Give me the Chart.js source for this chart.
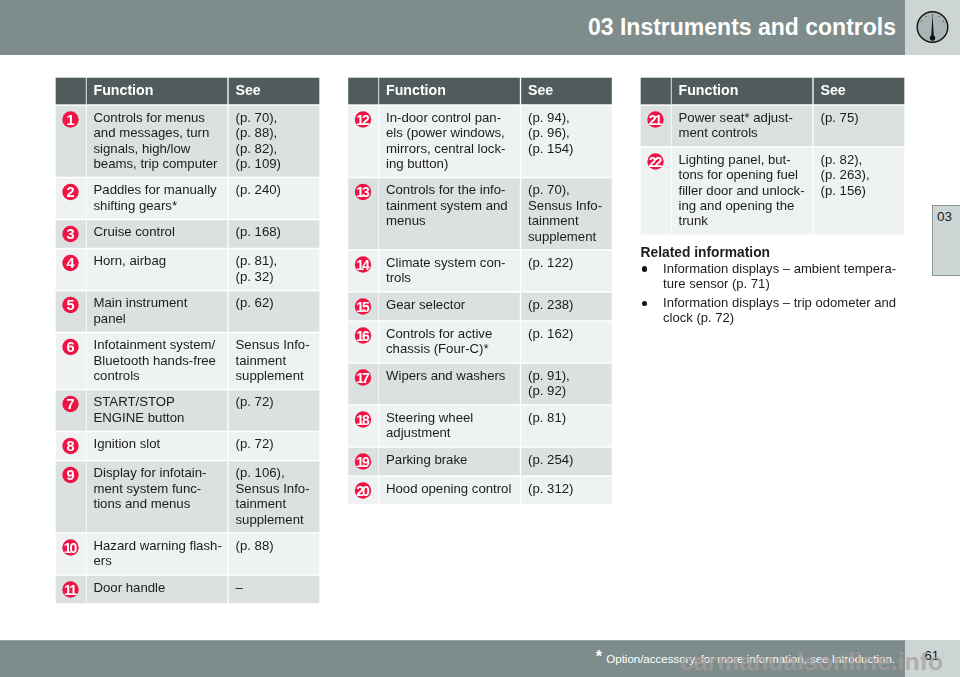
<!DOCTYPE html>
<html>
<head>
<meta charset="utf-8">
<title>03 Instruments and controls</title>
<script src="https://cdn.jsdelivr.net/npm/chart.js@4/dist/chart.umd.min.js"></script>
<style>
  html, body { margin: 0; padding: 0; background: #fff; overflow: hidden; }
  body { width: 960px; height: 677px; position: relative; font-family: 'Liberation Sans', sans-serif; color: #1c1c1c; }
  #page { position: absolute; left: 0; top: 0; }
  .band { position: absolute; left: 0; width: 905px; background: #7e8c8b; }
  .box { position: absolute; left: 905px; width: 55px; background: #cdd5d4; }
  .abs { position: absolute; white-space: nowrap; }
  #title { right: 64px; top: 12px; font-size: 23px; line-height: 30px; font-weight: bold; color: #fff; }
  #note { right: 65px; top: 650px; font-size: 11.5px; line-height: 16px; color: #fff; }
  #note b { font-size: 16px; line-height: 16px; position: relative; top: -1px; margin-right: 1px; }
  #pageno { left: 924.5px; top: 648px; font-size: 13px; line-height: 16px; color: #111; }
  #mark { left: 680px; top: 648px; font-size: 24.8px; line-height: 28px; font-weight: bold; color: rgba(165,158,158,.72); }
  #tab { position: absolute; left: 932px; top: 205px; width: 28px; height: 69px; background: #cdd5d4; border: 1px solid #8b9695; border-right: 0; }
  #tabno { left: 937px; top: 209px; font-size: 13.5px; line-height: 16px; }
  #related { left: 640.5px; top: 245px; font-size: 13.8px; line-height: 16px; font-weight: bold; }
  .line { left: 663px; font-size: 13.07px; line-height: 16px; }
  .dot { position: absolute; left: 641.5px; width: 5.5px; height: 5.5px; border-radius: 50%; background: #111; }
</style>
</head>
<body>
<canvas id="page" width="960" height="677"></canvas>

<div class="band" style="top:0;height:55px"></div>
<div class="box" style="top:0;height:55px"></div>
<div class="abs" id="title">03 Instruments and controls</div>
<svg class="abs" style="left:905px;top:0" width="55" height="55" viewBox="905 0 55 55">
  <circle cx="932.5" cy="27" r="15.3" fill="#a9b5b4" stroke="#111" stroke-width="1.4"/>
  <path d="M932.5 14 L933.8 37 L931.2 37 Z" fill="#111"/>
  <circle cx="932.5" cy="38" r="2.7" fill="#111"/>
  <g fill="#333">
    <circle cx="932.5" cy="15" r=".6"/><circle cx="926" cy="16.5" r=".6"/><circle cx="939" cy="16.5" r=".6"/>
    <circle cx="921.5" cy="21" r=".6"/><circle cx="943.5" cy="21" r=".6"/>
  </g>
</svg>

<div id="tab"></div>
<div class="abs" id="tabno">03</div>

<div class="abs" id="related">Related information</div>
<div class="dot" style="top:266px"></div>
<div class="abs line" style="top:260.5px">Information displays – ambient tempera-</div>
<div class="abs line" style="top:275.5px">ture sensor (p. 71)</div>
<div class="dot" style="top:300.5px"></div>
<div class="abs line" style="top:295px">Information displays – trip odometer and</div>
<div class="abs line" style="top:310px">clock (p. 72)</div>

<div class="band" style="top:640px;height:37px;border-top:1px solid #98a3a2;box-sizing:border-box"></div>
<div class="box" style="top:640px;height:37px"></div>
<div class="abs" id="note"><b>*</b> Option/accessory, for more information, see Introduction.</div>
<div class="abs" id="pageno">61</div>
<div class="abs" id="mark">carmanualsonline.info</div>

<script>
// table contents, one array per table and column, \n marks a line break in the cell
const columnHeaders = ['', 'Function', 'See'];

const functionsOne = [
  'Controls for menus\nand messages, turn\nsignals, high/low\nbeams, trip computer',
  'Paddles for manually\nshifting gears*',
  'Cruise control',
  'Horn, airbag',
  'Main instrument\npanel',
  'Infotainment system/\nBluetooth hands-free\ncontrols',
  'START/STOP\nENGINE button',
  'Ignition slot',
  'Display for infotain-\nment system func-\ntions and menus',
  'Hazard warning flash-\ners',
  'Door handle',
];
const seeOne = [
  '(p. 70),\n(p. 88),\n(p. 82),\n(p. 109)',
  '(p. 240)',
  '(p. 168)',
  '(p. 81),\n(p. 32)',
  '(p. 62)',
  'Sensus Info-\ntainment\nsupplement',
  '(p. 72)',
  '(p. 72)',
  '(p. 106),\nSensus Info-\ntainment\nsupplement',
  '(p. 88)',
  '–',
];
const functionsTwo = [
  'In-door control pan-\nels (power windows,\nmirrors, central lock-\ning button)',
  'Controls for the info-\ntainment system and\nmenus',
  'Climate system con-\ntrols',
  'Gear selector',
  'Controls for active\nchassis (Four-C)*',
  'Wipers and washers',
  'Steering wheel\nadjustment',
  'Parking brake',
  'Hood opening control',
];
const seeTwo = [
  '(p. 94),\n(p. 96),\n(p. 154)',
  '(p. 70),\nSensus Info-\ntainment\nsupplement',
  '(p. 122)',
  '(p. 238)',
  '(p. 162)',
  '(p. 91),\n(p. 92)',
  '(p. 81)',
  '(p. 254)',
  '(p. 312)',
];
const functionsThree = [
  'Power seat* adjust-\nment controls',
  'Lighting panel, but-\ntons for opening fuel\nfiller door and unlock-\ning and opening the\ntrunk',
];
const seeThree = [
  '(p. 75)',
  '(p. 82),\n(p. 263),\n(p. 156)',
];

const HEADER_FILL = '#505c5c';
const DARK_ROW = '#dbe0e0';
const LIGHT_ROW = '#eff2f3';
const BADGE_RED = '#ee1443';

// page layout in pixels, the chart scales run 0-960 and 0-677 so they map 1:1
const TABLE_LEFT = [56, 348.5, 641];
const COLUMN_LEFT = [0, 31, 173];
const COLUMN_WIDTH = [29.5, 140, 90];
const HEADER_TOP = 78;
const HEADER_HEIGHT = 26;
const ROWS_TOP = 106;
const ROW_PITCH = [0, 29, 42, 57, 72.5, 88];
const ROW_GAP = 2;

function lineCount(text) { return text.split('\n').length; }

function buildDatasets(functions, see, tableIndex, firstNumber, firstDark) {
  const spans = [[HEADER_TOP, HEADER_TOP + HEADER_HEIGHT]];
  const fills = [HEADER_FILL];
  const badges = [];
  let top = ROWS_TOP;
  functions.forEach((f, i) => {
    const pitch = ROW_PITCH[Math.max(lineCount(f), lineCount(see[i]))];
    spans.push([top, top + pitch - ROW_GAP]);
    fills.push((i % 2 === 0) === firstDark ? DARK_ROW : LIGHT_ROW);
    badges.push({ x: TABLE_LEFT[tableIndex] + 14.5, y: top + 13.5, label: String(firstNumber + i) });
    top += pitch;
  });

  const cells = [functions.map(() => ''), functions, see];
  const datasets = COLUMN_WIDTH.map((w, c) => ({
    type: 'bar',
    data: spans.map(s => ({ x: TABLE_LEFT[tableIndex] + COLUMN_LEFT[c] + w / 2, y: s })),
    backgroundColor: fills,
    barThickness: w,
    grouped: false,
    cellTexts: [columnHeaders[c], ...cells[c]],
    order: 2,
  }));
  datasets.push({
    type: 'scatter',
    data: badges,
    pointRadius: 8.2,
    pointBackgroundColor: BADGE_RED,
    pointBorderWidth: 0,
    order: 1,
  });
  return datasets;
}

// draws the cell text and the badge numbers on top of the library's bars and points
const cellTextPlugin = {
  id: 'cellText',
  afterDatasetsDraw(chart) {
    const c = chart.ctx;
    chart.data.datasets.forEach((ds, di) => {
      const meta = chart.getDatasetMeta(di);
      if (ds.type === 'scatter') {
        c.save();
        c.fillStyle = '#fff';
        c.textAlign = 'center';
        c.textBaseline = 'alphabetic';
        meta.data.forEach((pt, i) => {
          const label = ds.data[i].label;
          c.font = 'bold ' + (label.length > 1 ? 14 : 14.5) + 'px "Liberation Sans"';
          c.letterSpacing = label.length > 1 ? '-1.9px' : '0px';
          c.fillText(label, pt.x - (label.length > 1 ? 0.9 : 0), pt.y + 5.2);
        });
        c.restore();
        return;
      }
      c.save();
      c.textAlign = 'left';
      c.textBaseline = 'alphabetic';
      meta.data.forEach((bar, i) => {
        const text = ds.cellTexts[i];
        if (!text) return;
        const left = bar.x - bar.width / 2 + 6.5;
        const top = Math.min(bar.y, bar.base);
        if (i === 0) {
          c.font = 'bold 14.2px "Liberation Sans"';
          c.fillStyle = '#fff';
          c.fillText(text, left, top + 17);
        } else {
          c.font = '13.2px "Liberation Sans"';
          c.fillStyle = '#1c1c1c';
          text.split('\n').forEach((line, n) => c.fillText(line, left, top + 15.8 + n * 15.4));
        }
      });
      c.restore();
    });
  }
};

new Chart(document.getElementById('page'), {
  type: 'bar',
  data: {
    datasets: [
      ...buildDatasets(functionsOne, seeOne, 0, 1, true),
      ...buildDatasets(functionsTwo, seeTwo, 1, 12, false),
      ...buildDatasets(functionsThree, seeThree, 2, 21, true),
    ]
  },
  options: {
    responsive: false,
    animation: false,
    devicePixelRatio: 1,
    events: [],
    layout: { padding: 0, autoPadding: false },
    plugins: { legend: { display: false }, tooltip: { enabled: false } },
    scales: {
      x: { type: 'linear', min: 0, max: 960, offset: false, display: false },
      y: { type: 'linear', min: 0, max: 677, reverse: true, display: false },
    }
  },
  plugins: [cellTextPlugin]
});
</script>
</body>
</html>
